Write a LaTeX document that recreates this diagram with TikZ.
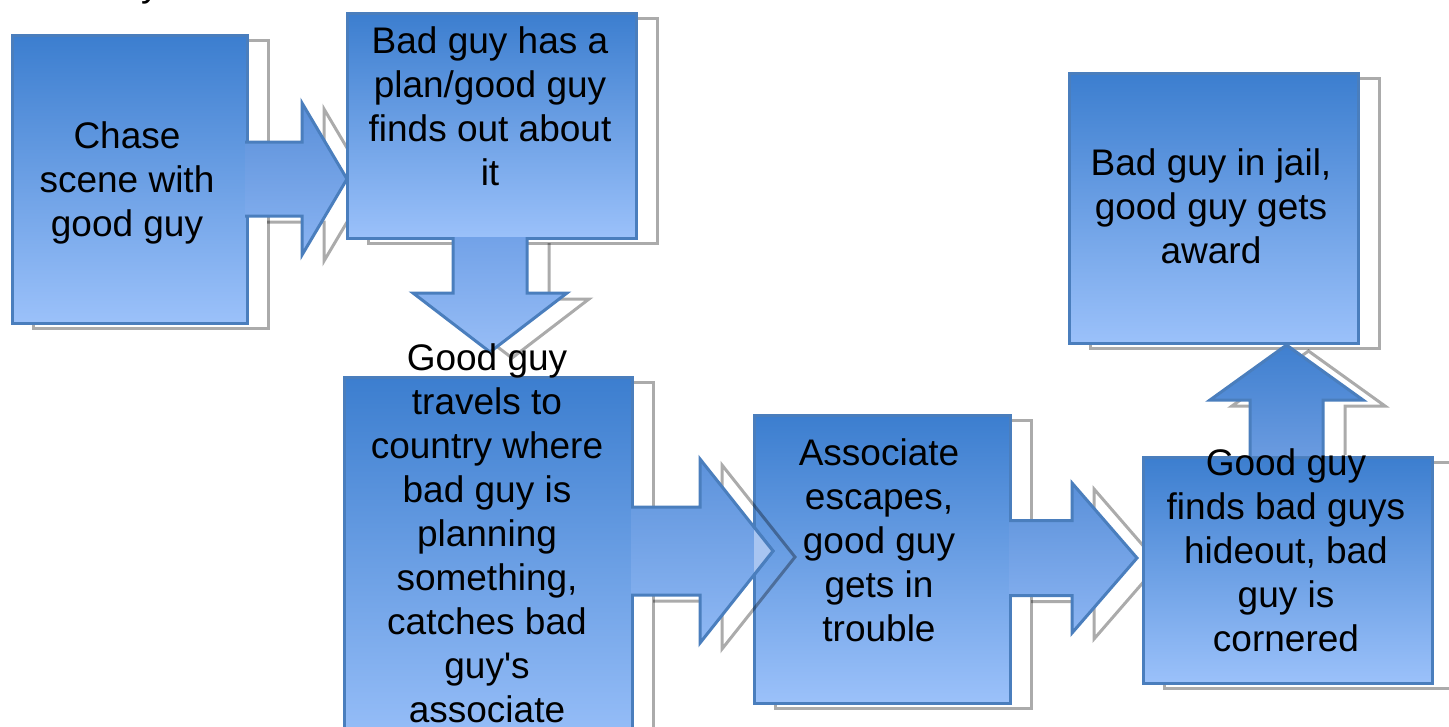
\documentclass[tikz,border=0pt]{standalone}
\usepackage{fontspec}
\setmainfont{Liberation Sans}
\definecolor{btop}{HTML}{3C7ECF}
\definecolor{bbot}{HTML}{9BC1FA}
\definecolor{bline}{HTML}{4A7EBD}
\definecolor{tiplight}{HTML}{A8C5F1}
\tikzset{
  box/.style={rectangle, draw=bline, line width=3pt, top color=btop, bottom color=bbot, inner sep=0pt, anchor=north west},
  shd/.style={draw=black, draw opacity=0.33, line width=3pt},
  arrline/.style={draw=bline, line width=3pt, line join=miter},
  txt/.style={align=center, font=\fontsize{37}{44}\selectfont, inner sep=0pt, text=black},
}
% horizontal block arrow: #1 x0, #2 head base x, #3 tip x, #4 y mid, #5 shaft half, #6 head half, #7 top colour, #8 bottom colour
\newcommand\hblock[8]{%
  \definecolor{atop}{HTML}{#7}\definecolor{abot}{HTML}{#8}%
  \draw[shd] (#1+22,#4-#5+6) -- (#2+22,#4-#5+6) -- (#2+22,#4-#6+6) -- (#3+22,#4+6) -- (#2+22,#4+#6+6) -- (#2+22,#4+#5+6) -- (#1+22,#4+#5+6);
  \shade[top color=atop, bottom color=abot] (#1,#4-#5) -- (#2,#4-#5) -- (#2,#4-#6) -- (#3,#4) -- (#2,#4+#6) -- (#2,#4+#5) -- (#1,#4+#5) -- cycle;
  \draw[arrline] (#1,#4-#5) -- (#2,#4-#5) -- (#2,#4-#6) -- (#3,#4) -- (#2,#4+#6) -- (#2,#4+#5) -- (#1,#4+#5);
}
% vertical block arrow: #1 y0, #2 head base y, #3 tip y, #4 x mid, #5 shaft half, #6 head half, #7 top colour, #8 bottom colour, #9 shadow start y
\newcommand\vblock[9]{%
  \definecolor{atop}{HTML}{#7}\definecolor{abot}{HTML}{#8}%
  \draw[shd] (#4-#5+22,#9) -- (#4-#5+22,#2+6) -- (#4-#6+22,#2+6) -- (#4+22,#3+6) -- (#4+#6+22,#2+6) -- (#4+#5+22,#2+6) -- (#4+#5+22,#9);
  \shade[top color=atop, bottom color=abot] (#4-#5,#1) -- (#4-#5,#2) -- (#4-#6,#2) -- (#4,#3) -- (#4+#6,#2) -- (#4+#5,#2) -- (#4+#5,#1) -- cycle;
  \draw[arrline] (#4-#5,#1) -- (#4-#5,#2) -- (#4-#6,#2) -- (#4,#3) -- (#4+#6,#2) -- (#4+#5,#2) -- (#4+#5,#1);
}
\begin{document}
\begin{tikzpicture}[x=1pt,y=-1pt]
\useasboundingbox (0,0) rectangle (1449,726);
\fill[white] (0,0) rectangle (1449,726);
% fragment of text cut at the top edge
\node[txt, anchor=base west] (frag) at (141,-3.8) {y};
% box 1
\draw[shd] (33,40) rectangle ++(235,288);
\node[box, minimum width=235pt, minimum height=288pt] (b1) at (11,34) {};
% arrow 1
\hblock{245}{302}{347}{179}{37}{76}{5A8FD8}{8AB4F3}
% box 2
\draw[shd] (368,18) rectangle ++(289,225);
\node[box, minimum width=289pt, minimum height=225pt] (b2) at (346,12) {};
% arrow 2
\vblock{237}{293}{352}{490}{37}{77}{72A2E8}{97BDF6}{243}
% box 3
\draw[shd] (365,382) rectangle ++(288,380);
\node[box, minimum width=288pt, minimum height=380pt] (b3) at (343,376) {};
% box 4
\draw[shd] (775,420) rectangle ++(256,288);
\node[box, minimum width=256pt, minimum height=288pt] (b4) at (753,414) {};
% arrow 3
\hblock{631}{700}{773}{551}{44}{92}{5C92DB}{8FB8F4}
\begin{scope}
  \clip (754,415) rectangle (1008,701);
  \fill[tiplight] (700,459) -- (773,551) -- (700,643) -- cycle;
  \draw[arrline] (700,459) -- (773,551) -- (700,643);
\end{scope}
% arrow 4
\hblock{1009}{1072}{1137}{558}{37.5}{75}{5A90D9}{8CB5F3}
% box 5
\draw[shd] (1164,462) rectangle ++(289,226);
\node[box, minimum width=289pt, minimum height=226pt] (b5) at (1142,456) {};
% box 6
\draw[shd] (1090,78) rectangle ++(289,270);
\node[box, minimum width=289pt, minimum height=270pt] (b6) at (1068,72) {};
% arrow 5
\vblock{456}{400}{345}{1286.5}{36.5}{76.5}{3F7FCF}{6A9BE0}{455}
% texts
\node[txt] (t1) at (127,183) {Chase\\scene with\\good guy};
\node[txt] (t2) at (490,106) {Bad guy has a\\plan/good guy\\finds out about\\it};
\node[txt] (t3) at (487,533) {Good guy\\travels to\\country where\\bad guy is\\planning\\something,\\catches bad\\guy\textquotesingle s\\associate};
\node[txt] (t4) at (879,540) {Associate\\escapes,\\good guy\\gets in\\trouble};
\node[txt] (t5) at (1286,550) {Good guy\\finds bad guys\\hideout, bad\\guy is\\cornered};
\node[txt] (t6) at (1211,206) {Bad guy in jail,\\good guy gets\\award};
\end{tikzpicture}
\end{document}
